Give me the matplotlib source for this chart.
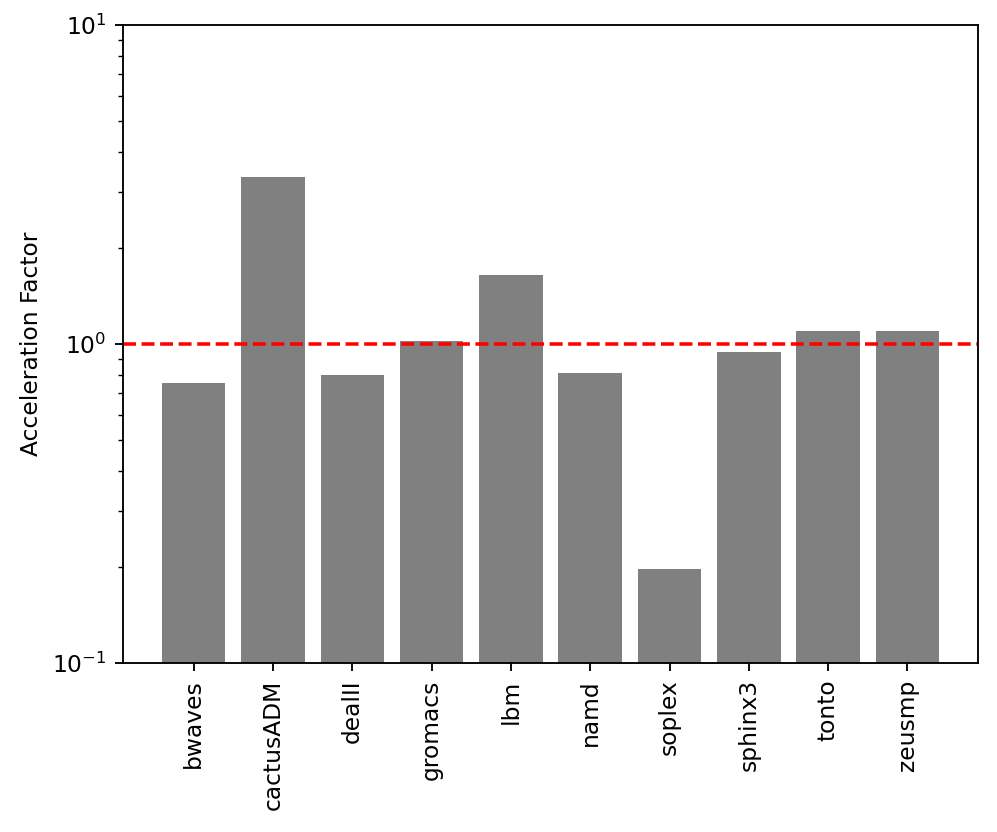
import numpy as np
from matplotlib import pyplot as plt

benchmarks = ['bwaves', 'cactusADM', 'dealII', 'gromacs', 'lbm',
              'namd', 'soplex', 'sphinx3', 'tonto', 'zeusmp']
accel = [0.755, 3.34, 0.80, 1.02, 1.65, 0.81, 0.197, 0.944, 1.10, 1.10]

DPI = 168
fig = plt.figure(figsize=(997 / DPI, 832 / DPI), dpi=DPI)
ax = fig.add_subplot(111)
fig.subplots_adjust(left=0.1234, right=0.981, top=0.970, bottom=0.2031)

x = np.arange(len(benchmarks))
ax.bar(x, accel, color='gray')
ax.axhline(1.0, color='red', linestyle='--')
ax.set_yscale('log')
ax.set_ylim(0.1, 10)
ax.set_xticks(x)
ax.set_xticklabels(benchmarks, rotation=90)
ax.set_ylabel('Acceleration Factor')

fig.savefig('out.png', dpi=DPI)
